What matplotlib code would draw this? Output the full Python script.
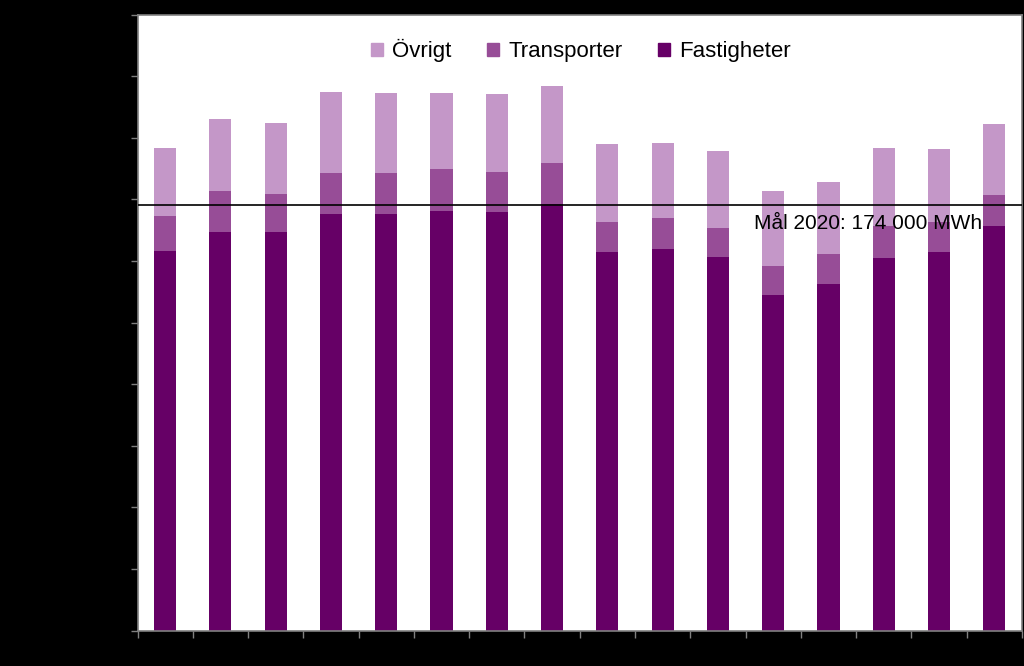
import matplotlib
matplotlib.use("Agg")
import matplotlib.pyplot as plt
from matplotlib.patches import Patch
import numpy as np

plt.rcParams['font.family'] = ['Liberation Sans', 'DejaVu Sans']

years = ["2005", "2006", "2007", "2008", "2009", "2010", "2011", "2012",
         "2013", "2014", "2015", "2016", "2017", "2018", "2019", "2020"]
fastigheter = [155300, 162900, 162900, 170500, 170500, 171500, 171100, 174300,
               155000, 156100, 152800, 137300, 141900, 152500, 154700, 165600]
transporter = [14400, 17000, 15700, 16700, 16700, 17300, 16400, 17000,
               12200, 12700, 12000, 11900, 12200, 13100, 12300, 12400]
ovrigt = [27600, 29200, 29000, 33100, 32600, 31200, 32000, 31300,
          31700, 30600, 31400, 30500, 29400, 31700, 30000, 29200]
mal_2020 = 174000
mal_label = "Mål 2020: 174 000 MWh"

c_fast = "#660066"
c_trans = "#974D97"
c_ovr = "#C497C8"

fig = plt.figure(figsize=(10.24, 6.66), dpi=100, facecolor="black")
ax = fig.add_axes([137.5/1024, 1-630.5/666, 884.5/1024, 616/666])
ax.set_facecolor("white")

x = np.arange(len(years))
fast = np.array(fastigheter)
trans = np.array(transporter)
ovr = np.array(ovrigt)
w = 0.40
ax.bar(x, fast, w, color=c_fast, label="Fastigheter")
ax.bar(x, trans, w, bottom=fast, color=c_trans, label="Transporter")
ax.bar(x, ovr, w, bottom=fast + trans, color=c_ovr, label="Övrigt")

ax.axhline(mal_2020, color="black", lw=1.2, zorder=3)
ax.text(10.65, 166300, mal_label, ha="left", va="center", fontsize=15, color="black", zorder=4)

ymax = 252000
ax.set_xlim(-0.5, len(years) - 0.5)
ax.set_ylim(0, ymax)
ax.set_yticks(np.linspace(0, ymax, 11))
ax.set_yticklabels([])
ax.set_xticks(np.arange(-0.5, len(years), 1.0))
ax.set_xticklabels([])
ax.set_xticks(x, minor=True)
ax.set_xticklabels(years, minor=True, color="black")
ax.tick_params(axis="x", which="minor", length=0)
ax.tick_params(axis="both", which="major", direction="out", length=5, color="#808080", width=1)

for s in ax.spines.values():
    s.set_color("#808080")
    s.set_linewidth(1.2)

handles = [Patch(color=c_ovr, label="Övrigt"),
           Patch(color=c_trans, label="Transporter"),
           Patch(color=c_fast, label="Fastigheter")]
ax.legend(handles=handles, loc="center", bbox_to_anchor=(0.501, 0.941), ncol=3,
          frameon=False, fontsize=16, handlelength=0.55, handleheight=0.55,
          handletextpad=0.4, columnspacing=1.6)

fig.savefig("out.png", dpi=100, facecolor="black")
